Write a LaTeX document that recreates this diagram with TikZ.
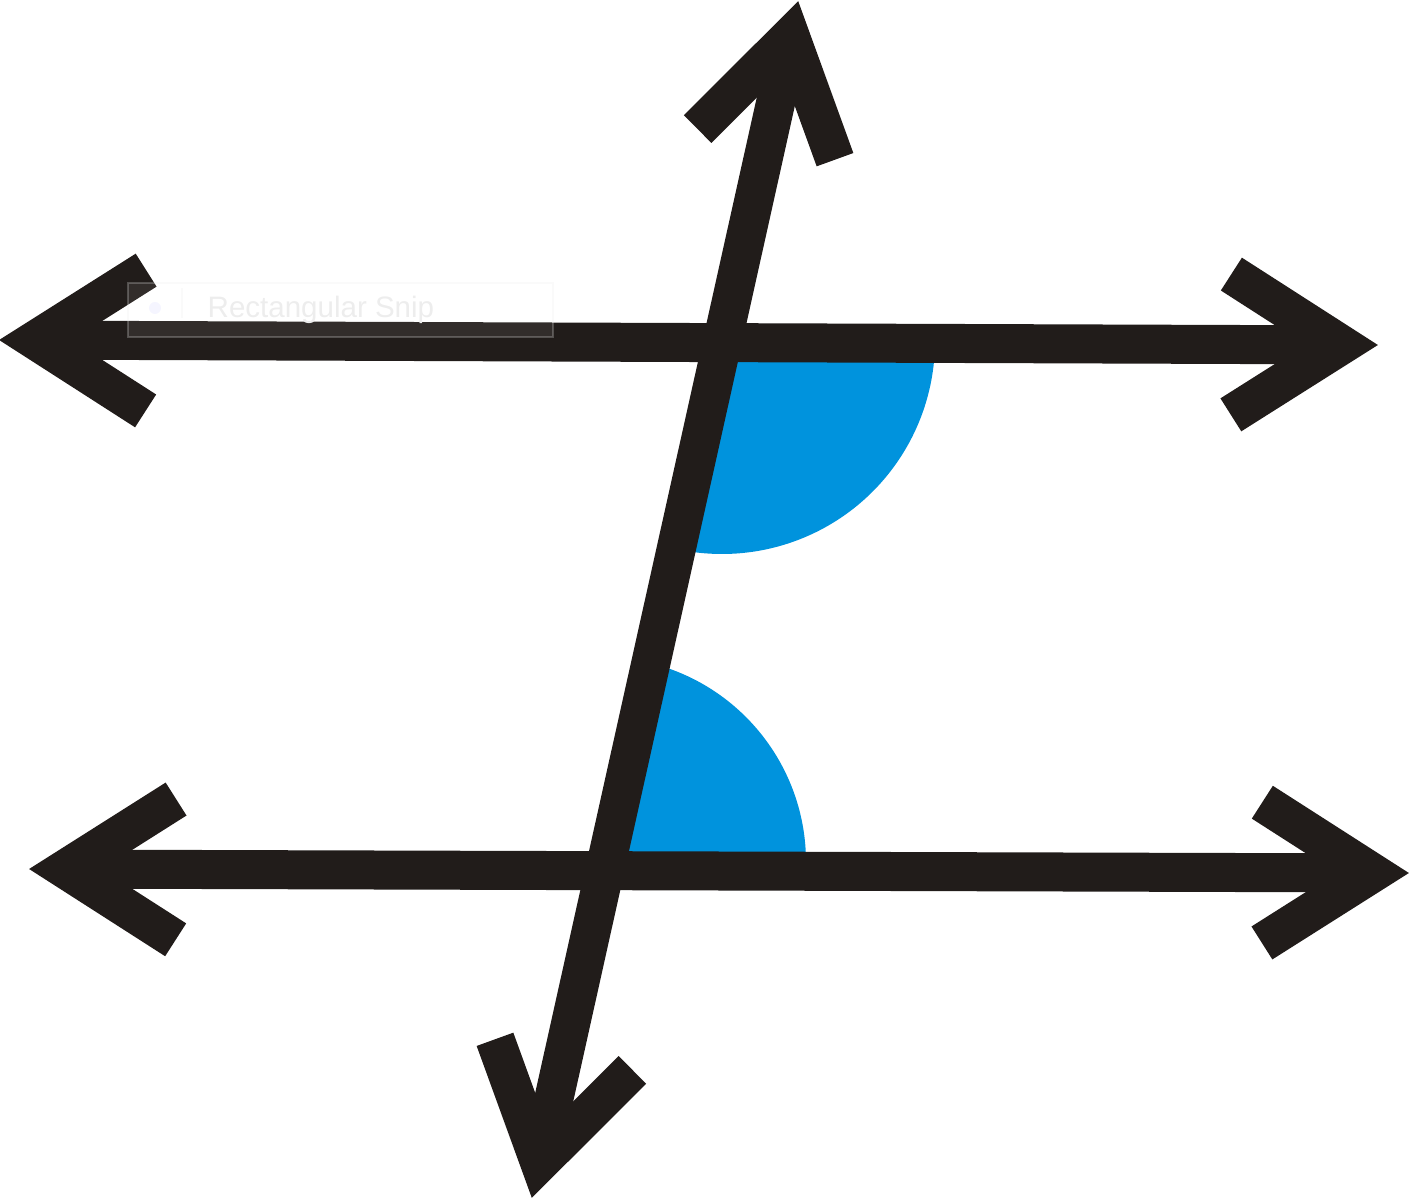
\documentclass[tikz,border=0pt]{standalone}
\usepackage{fontspec}
\setmainfont{Liberation Sans}
\usetikzlibrary{calc}
\definecolor{ink}{RGB}{33,28,26}
\definecolor{angleblue}{RGB}{0,147,221}
\tikzset{
  ray/.style={draw=ink, line width=0.39cm, line join=miter, line cap=butt},
  anglefill/.style={fill=angleblue},
  snipbox/.style={fill=white, fill opacity=0.08, draw=gray!15, draw opacity=0.25, line width=0.4pt},
  sniptext/.style={text=gray!14, font=\fontsize{8.4}{10}\selectfont, anchor=west, inner sep=0pt}
}
\newcommand\chevron[2]{\draw[ray] ($(#1)!1.31cm!32.5:(#2)$) -- (#1) -- ($(#1)!1.31cm!-32.5:(#2)$);}
\begin{document}
\begin{tikzpicture}
\useasboundingbox (0,0) rectangle (14.11,12);
% tips of the three lines
\coordinate (tl) at (0,8.60);
\coordinate (tr) at (13.77,8.55);
\coordinate (bl) at (0.30,3.31);
\coordinate (br) at (14.08,3.27);
\coordinate (tb) at (5.32,0.03);
\coordinate (tt) at (7.98,11.98);
% chevron vertices
\coordinate (tlv) at ($(tl)!0.354cm!(tr)$);
\coordinate (trv) at ($(tr)!0.354cm!(tl)$);
\coordinate (blv) at ($(bl)!0.354cm!(br)$);
\coordinate (brv) at ($(br)!0.354cm!(bl)$);
\coordinate (tbv) at ($(tb)!0.354cm!(tt)$);
\coordinate (ttv) at ($(tt)!0.354cm!(tb)$);
% angle centres
\coordinate (U) at (7.22,8.59);
\coordinate (L) at (6.01,3.38);
% blue angles
\fill[anglefill] (U) -- ++(-103:2.13) arc[start angle=-103, end angle=0, radius=2.13] -- cycle;
\fill[anglefill] (L) -- ++(0:2.05) arc[start angle=0, end angle=78, radius=2.05] -- cycle;
% lines
\draw[ray] (tlv) -- (trv);
\draw[ray] (blv) -- (brv);
\draw[ray] (tbv) -- (ttv);
% arrowheads
\chevron{tlv}{tr}
\chevron{trv}{tl}
\chevron{blv}{br}
\chevron{brv}{bl}
\chevron{tbv}{tt}
\chevron{ttv}{tb}
% faint snip toolbar artefact
\draw[snipbox] (1.28,8.63) rectangle (5.53,9.17);
\fill[blue!8, opacity=0.5] (1.55,8.92) circle (0.06);
\draw[gray!8, opacity=0.5] (1.82,8.82) -- (1.82,9.12);
\node[sniptext] (snip) at (2.07,8.90) {Rectangular Snip};
\end{tikzpicture}
\end{document}
